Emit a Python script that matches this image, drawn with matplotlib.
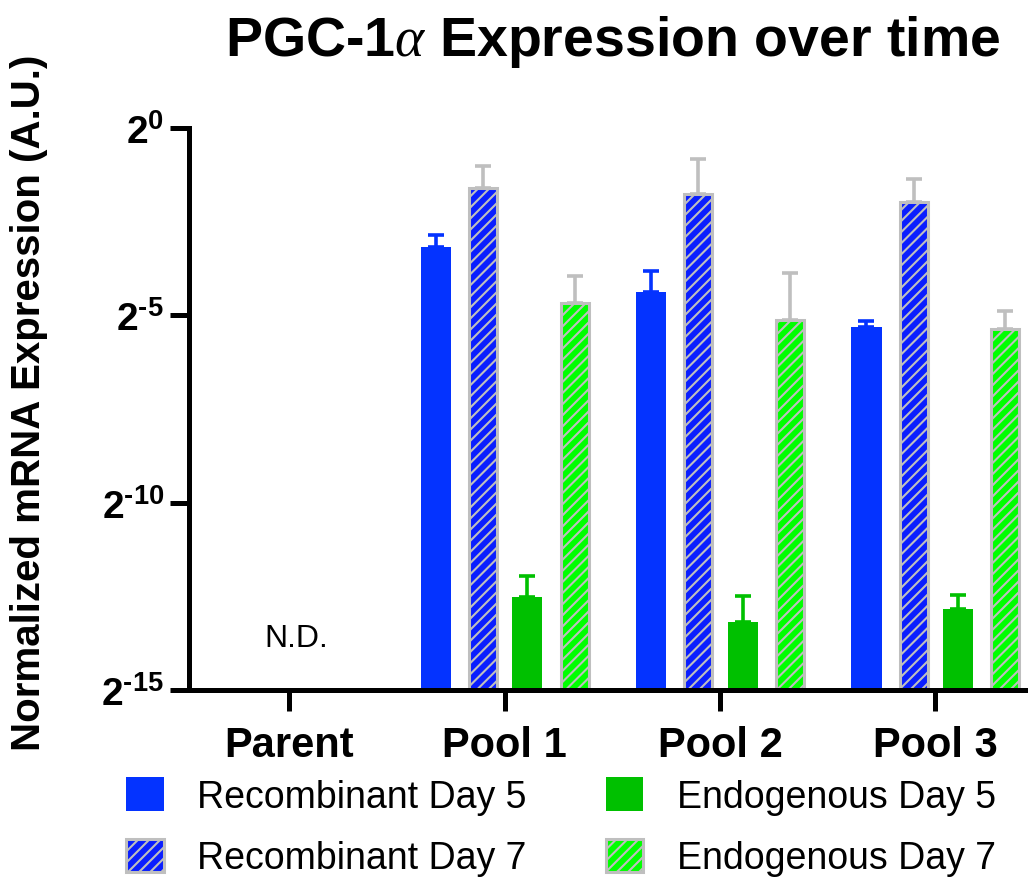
import numpy as np
import matplotlib
matplotlib.use('Agg')
import matplotlib.pyplot as plt
from matplotlib.patches import Patch
from matplotlib.ticker import FixedLocator, FixedFormatter, NullLocator

plt.rcParams['font.family'] = ['Liberation Sans', 'DejaVu Sans']
plt.rcParams['mathtext.fontset'] = 'custom'
plt.rcParams['mathtext.rm'] = 'Liberation Sans:bold'
plt.rcParams['mathtext.bf'] = 'Liberation Sans:bold'
plt.rcParams['mathtext.it'] = 'Liberation Serif:italic'
plt.rcParams['hatch.linewidth'] = 1.5

#%% Data (log2 of normalized expression)
categories = ['Parent', 'Pool 1', 'Pool 2', 'Pool 3']
pools = [1, 2, 3]                      # Parent is N.D.

rec_d5 = [-3.18, -4.37, -5.32]
rec_d5_top = [-2.85, -3.83, -5.16]
rec_d7 = [-1.61, -1.77, -1.98]
rec_d7_top = [-1.01, -0.82, -1.36]
endo_d5 = [-12.53, -13.19, -12.83]
endo_d5_top = [-11.96, -12.50, -12.46]
endo_d7 = [-4.67, -5.12, -5.36]
endo_d7_top = [-3.96, -3.86, -4.89]

ytick_exp = [-15, -10, -5, 0]

series = [
    ('Recombinant Day 5', rec_d5, rec_d5_top, '#0433FF', None, '#0433FF'),
    ('Recombinant Day 7', rec_d7, rec_d7_top, '#0A1EFF', '///', '#BFBFBF'),
    ('Endogenous Day 5', endo_d5, endo_d5_top, '#00C000', None, '#00C000'),
    ('Endogenous Day 7', endo_d7, endo_d7_top, '#00FF00', '///', '#BFBFBF'),
]

#%% Plot
fig = plt.figure(figsize=(10.28, 8.78), dpi=100)
ax = fig.add_axes([189 / 1028, 1 - 691 / 878, 1 - 189 / 1028, (691 - 129) / 878])
ax.set_yscale('log', base=2)
bottom = 2.0 ** -15

offsets = [-0.32, -0.1, 0.105, 0.325]
width = 0.14
x = np.array(pools, dtype=float)
for (name, vals, tops, color, hatch, edge), off in zip(series, offsets):
    v = 2.0 ** np.array(vals)
    t = 2.0 ** np.array(tops)
    if hatch:
        ax.bar(x + off, v - bottom, bottom=bottom, width=width - 0.01, color=color,
               hatch=hatch, edgecolor=edge, linewidth=2.2, zorder=2)
    else:
        ax.bar(x + off, v - bottom, bottom=bottom, width=width, color=color,
               edgecolor='none', zorder=2)
    ax.errorbar(x + off, v, yerr=[np.zeros_like(v), t - v], fmt='none',
                ecolor=edge, elinewidth=2.6, capsize=6, capthick=2.6, zorder=3)

ax.text(0.035, 2.0 ** -13.6, 'N.D.', fontsize=23, ha='center', va='center')

ax.set_xlim(-0.465, 3.43)
ax.set_ylim(2.0 ** -15, 1)
ax.set_xticks(range(len(categories)))
ax.set_xticklabels(categories, fontsize=30, fontweight='bold')
ax.yaxis.set_major_locator(FixedLocator([2.0 ** e for e in ytick_exp]))
ax.yaxis.set_major_formatter(FixedFormatter(
    [r'$\mathbf{2^{\text{%s}}}$' % ('-' + str(-e) if e < 0 else str(e)) for e in ytick_exp]))
ax.yaxis.set_minor_locator(NullLocator())
ax.tick_params(axis='y', labelsize=28, length=14, width=3.6, pad=4)
ax.tick_params(axis='x', length=15, width=3.6, pad=10)
for s in ['top', 'right']:
    ax.spines[s].set_visible(False)
for s in ['left', 'bottom']:
    ax.spines[s].set_linewidth(3.6)

fig.text(29 / 1028, 1 - 403 / 878, 'Normalized mRNA Expression (A.U.)', rotation=90,
         fontsize=29, fontweight='bold', ha='center', va='center')
fig.text(613 / 1028, 1 - 42 / 878, r'PGC-1$\alpha$ Expression over time',
         fontsize=40, fontweight='bold', ha='center', va='center')

handles = [Patch(facecolor=c, hatch=h, edgecolor=e if h else 'none', linewidth=2.2 if h else 0,
                 label=n) for n, _, _, c, h, e in series]
fig.legend(handles=handles, ncol=2, loc='upper left', bbox_to_anchor=(126 / 1028, 1 - 778 / 878),
           frameon=False, fontsize=27, handlelength=1.0, handleheight=1.0,
           handletextpad=0.9, columnspacing=2.1, labelspacing=0.64, borderpad=0,
           borderaxespad=0)

plt.savefig('out.png', dpi=100)
